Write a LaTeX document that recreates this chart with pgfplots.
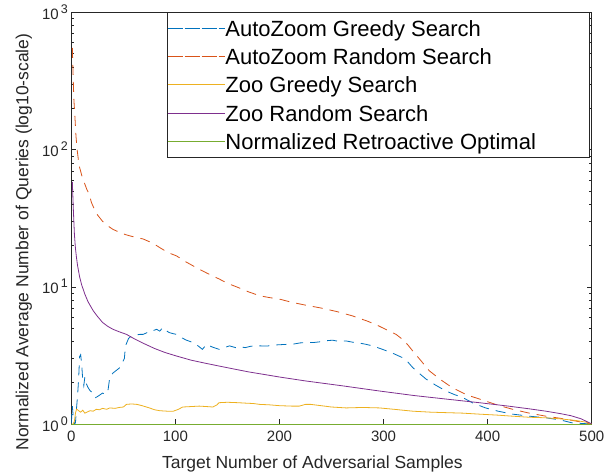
\documentclass[border=0pt]{standalone}
\usepackage{fontspec}
\setmainfont{Liberation Sans}
\usepackage{pgfplots}
\pgfplotsset{compat=1.18}
\definecolor{mblue}{rgb}{0,0.447,0.741}
\definecolor{morange}{rgb}{0.85,0.325,0.098}
\definecolor{myellow}{rgb}{0.929,0.694,0.125}
\definecolor{mpurple}{rgb}{0.494,0.184,0.556}
\definecolor{mgreen}{rgb}{0.466,0.674,0.188}
\definecolor{mgray}{rgb}{0.15,0.15,0.15}
\newcommand{\ytl}[1]{10\hspace{2pt}\raisebox{6pt}{\fontsize{12.5}{12.5}\selectfont #1}}
\begin{document}
\begin{tikzpicture}
\begin{axis}[
  scale only axis, width=520.4pt, height=411.7pt,
  xmin=0, xmax=500, ymode=log, ymin=1, ymax=1000,
  xtick={0,100,200,300,400,500},
  ytick={1,10,100,1000},
  yticklabels={\ytl{0},\ytl{1},\ytl{2},\ytl{3}},
  tick align=inside,
  major tick length=5pt, minor tick length=3pt,
  axis line style={draw=mgray, line width=0.6pt},
  every tick/.style={draw=mgray, line width=0.5pt},
  tick label style={font=\fontsize{15}{18}\selectfont, text=mgray},
  /pgf/number format/assume math mode=true,
  xticklabel style={yshift=-3pt},
  xlabel={Target Number of Adversarial Samples},
  ylabel={Normalized Average Number of Queries (log10-scale)},
  every axis x label/.style={at={(axis description cs:0.4633,0)}, anchor=base, yshift=-44.3pt, font=\fontsize{17.5}{20}\selectfont, text=mgray},
  every axis y label/.style={at={(axis description cs:0,0.442)}, xshift=-43pt, rotate=90, anchor=base, font=\fontsize{17.5}{20}\selectfont, text=mgray},
  legend style={at={(axis description cs:0.99673,1)}, anchor=north east, draw=mgray, line width=0.6pt, fill=white, inner xsep=0pt, inner ysep=1.6pt, font=\fontsize{22}{26}\selectfont, nodes={inner sep=0pt, text height=22.1pt, text depth=6.15pt}, row sep=0pt},
  legend cell align=left,
  legend image code/.code={\path (0pt,0pt) -- (57.4pt,0pt); \draw[#1] (5pt,0pt) -- (53.4pt,0pt);},
]
\addplot[mblue, line width=0.8pt, dash pattern=on 10pt off 7pt] coordinates {
(0,1.0) (1,1.35) (2,1.1) (3,1.0) (4,1.02) (5,1.3) (6,1.6) (7,2.1) (8,3.1) (9,3.2) (10,2.7) (11,2.1) (12,1.9) (13,2.2) (14,2.0) (16,1.85) (18,1.75) (20,1.7) (23,1.55) (26,1.6) (30,1.68) (33,1.65) (35,1.7) (37,2.2) (40,2.35) (43,2.45) (46,2.55) (49,2.8) (51,3.0) (52,3.7) (55,4.2) (58,4.4) (62,4.45) (66,4.5) (69,4.5) (72,4.6) (75,4.75) (78,4.77) (82,4.9) (85,4.75) (88,5.05) (91,4.8) (94,4.64) (98,4.55) (101,4.5) (105,4.3) (110,4.1) (117,3.92) (122,3.7) (126,3.5) (130,3.81) (135,3.65) (142,3.5) (147,3.6) (152,3.71) (158,3.6) (163,3.65) (167,3.6) (172,3.68) (177,3.72) (181,3.71) (188,3.7) (197,3.77) (205,3.8) (213,3.82) (220,3.9) (226,3.92) (232,3.92) (240,3.98) (246,4.05) (251,4.08) (257,4.0) (264,4.03) (270,3.95) (276,3.9) (283,3.81) (290,3.7) (299,3.5) (308,3.3) (318,3.05) (323,2.85) (328,2.58) (334,2.35) (341,2.12) (350,1.92) (360,1.74) (368,1.64) (376,1.56) (386,1.42) (398,1.31) (410,1.24) (424,1.18) (440,1.14) (456,1.11) (470,1.07) (481,1.02) (490,1.01) (500,1.0)
};
\addlegendentry{\makebox[364.3pt][l]{AutoZoom Greedy Search}}
\addplot[morange, line width=0.8pt, dash pattern=on 10pt off 7pt] coordinates {
(1,550) (2,300) (2.5,230) (3.5,172) (4.5,125) (5.6,100) (7,82) (8,74) (10,65) (13,56) (15,51) (17,47.6) (19.4,41) (22,37) (25,33.5) (30,30) (35,27.8) (40,26.2) (46.5,24.9) (52,24) (58,23.3) (63,22.8) (69,22.3) (75,21.3) (80,20.4) (85,19.3) (90,18.3) (95,17.5) (101,16.8) (110,15.2) (120,13.8) (130,12.6) (142,11.4) (150,10.6) (160,9.9) (170,9.2) (181,8.6) (190,8.35) (200,8.13) (212,7.7) (225,7.35) (240,7.0) (255,6.6) (270,6.14) (285,5.6) (295,5.2) (305,4.77) (312,4.5) (318,4.15) (323,3.8) (328,3.41) (335,2.95) (344,2.44) (355,2.1) (366,1.84) (380,1.63) (398,1.47) (410,1.37) (424,1.28) (440,1.2) (456,1.14) (470,1.1) (485,1.05) (500,1.0)
};
\addlegendentry{\makebox[364.3pt][l]{AutoZoom Random Search}}
\addplot[myellow, line width=0.8pt] coordinates {
(0,1.0) (2,1.0) (3,1.05) (4,1.2) (5,1.28) (6,1.27) (7,1.25) (9,1.22) (11,1.26) (13,1.2) (15,1.22) (18,1.25) (21,1.24) (24,1.28) (27,1.27) (30,1.3) (34,1.28) (37,1.31) (42,1.3) (46,1.32) (50,1.33) (53,1.39) (58,1.4) (63,1.39) (68,1.36) (75,1.31) (80,1.27) (85,1.25) (92,1.24) (98,1.24) (103,1.28) (107,1.33) (115,1.34) (123,1.35) (130,1.34) (136,1.33) (140,1.38) (142,1.43) (150,1.44) (160,1.43) (167,1.42) (175,1.41) (181,1.39) (190,1.38) (200,1.36) (212,1.35) (219,1.35) (225,1.39) (230,1.39) (240,1.36) (250,1.33) (264,1.31) (280,1.32) (296,1.31) (310,1.28) (328,1.24) (345,1.22) (360,1.21) (376,1.2) (392,1.18) (410,1.16) (424,1.14) (440,1.12) (456,1.11) (470,1.09) (485,1.06) (495,1.03) (500,1.0)
};
\addlegendentry{\makebox[364.3pt][l]{Zoo Greedy Search}}
\addplot[mpurple, line width=0.8pt] coordinates {
(1,58) (2,36) (3,24) (4,19) (5,16.3) (6,14.3) (8,11.8) (10,10.3) (13,8.85) (16,7.8) (21,6.7) (25,6.1) (30,5.5) (35,5.15) (40,4.9) (46,4.7) (53,4.5) (60,4.2) (70,3.85) (80,3.55) (90,3.32) (101,3.13) (115,2.92) (130,2.76) (149,2.58) (170,2.4) (200,2.2) (225,2.06) (260,1.9) (296,1.74) (330,1.61) (360,1.52) (392,1.43) (420,1.35) (440,1.29) (456,1.24) (470,1.19) (480,1.15) (490,1.09) (500,1.0)
};
\addlegendentry{\makebox[364.3pt][l]{Zoo Random Search}}
\addplot[mgreen, line width=0.8pt] coordinates {(0,1) (500,1)};
\addlegendentry{\makebox[364.3pt][l]{Normalized Retroactive Optimal}}
\end{axis}
\pgfresetboundingbox
\path (current axis.south west) ++(-71.3pt,-49pt) rectangle ([xshift=21.3pt,yshift=12.3pt]current axis.north east);
\end{tikzpicture}
\end{document}
